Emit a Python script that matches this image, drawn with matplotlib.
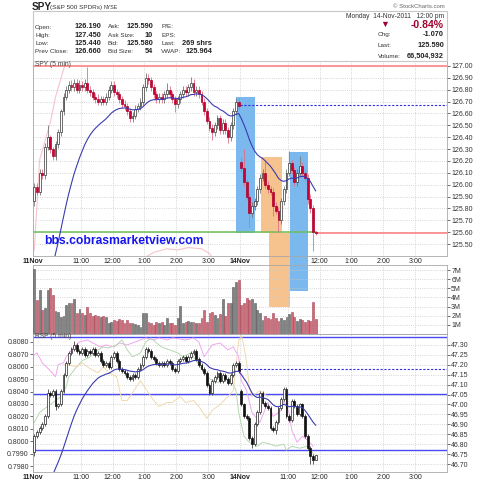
import numpy as np
import matplotlib.pyplot as plt
from matplotlib.patches import Rectangle
from matplotlib.ticker import FormatStrFormatter

plt.rcParams['font.family'] = ['Liberation Sans', 'DejaVu Sans']

BARS_PER_DAY = 78

# ---------------- data (5 min bars) ----------------
spy_day_open = [125.86, 126.19]
spy_close_11 = [
    125.98, 125.94, 126.10, 126.08, 126.32, 126.40, 126.30, 126.24, 126.34, 126.44,
    126.62, 126.74, 126.80, 126.84, 126.82, 126.86, 126.80, 126.84, 126.82, 126.86,
    126.80, 126.78, 126.74, 126.72, 126.70, 126.72, 126.70, 126.74, 126.80, 126.84,
    126.78, 126.76, 126.72, 126.68, 126.66, 126.62, 126.56, 126.58, 126.64, 126.66,
    126.70, 126.82, 126.90, 126.88, 126.82, 126.76, 126.72, 126.74, 126.72, 126.76,
    126.80, 126.76, 126.72, 126.68, 126.72, 126.76, 126.80, 126.78, 126.82, 126.86,
    126.78, 126.80, 126.76, 126.70, 126.62, 126.54, 126.48, 126.44, 126.50, 126.56,
    126.46, 126.52, 126.46, 126.40, 126.50, 126.62, 126.70, 126.66]
spy_close_14 = [
    126.14, 126.02, 125.90, 125.76, 125.82, 125.86, 125.96, 126.06, 126.10, 126.00,
    125.96, 125.94, 125.82, 125.78, 125.70, 125.86, 125.96, 126.10, 126.18, 126.12,
    126.02, 126.10, 126.16, 126.10, 126.06, 125.88, 125.80, 125.60, 125.59]
# wick lengths above / below the body, in cents
spy_up_wick = [
    3, 3, 3, 3, 3, 10, 2, 2, 3, 3, 2, 3, 3, 3, 4, 3, 3, 4, 3, 3,
    13, 3, 3, 3, 4, 3, 3, 3, 3, 3, 3, 3, 3, 3, 3, 3, 3, 3, 3, 3,
    3, 3, 4, 3, 3, 3, 3, 3, 3, 3, 6, 3, 3, 3, 3, 3, 3, 3, 3, 5,
    3, 3, 3, 3, 3, 3, 3, 3, 3, 3, 3, 3, 3, 3, 3, 3, 3, 3,
    4, 16, 3, 3, 3, 3, 3, 3, 3, 10, 3, 3, 3, 3, 3, 3, 3, 3, 10, 3,
    3, 3, 8, 3, 3, 3, 4, 3, 1]
spy_dn_wick = [
    4, 3, 3, 3, 3, 3, 3, 3, 3, 3, 3, 3, 3, 3, 3, 3, 3, 3, 3, 3,
    3, 3, 3, 3, 3, 3, 3, 3, 3, 3, 3, 3, 3, 3, 3, 3, 3, 3, 3, 3,
    3, 3, 3, 3, 3, 3, 3, 3, 3, 3, 3, 3, 3, 7, 3, 3, 3, 3, 3, 3,
    3, 3, 3, 3, 3, 3, 3, 6, 3, 3, 3, 3, 3, 5, 3, 3, 3, 3,
    3, 3, 3, 12, 3, 3, 3, 3, 3, 3, 3, 3, 8, 3, 10, 3, 3, 3, 3, 3,
    3, 3, 3, 3, 3, 4, 4, 16, 1]

volume_11 = [
    7.1, 3.7, 4.8, 2.6, 2.8, 4.8, 5.0, 4.3, 2.5, 2.4,
    1.9, 2.0, 3.2, 3.4, 3.4, 3.8, 2.3, 2.7, 2.3, 2.1,
    2.9, 2.3, 2.0, 2.1, 2.0, 1.9, 2.0, 1.9, 1.2, 1.3,
    1.5, 1.4, 1.6, 1.5, 1.2, 1.5, 1.2, 1.2, 1.1, 1.0,
    0.8, 2.3, 2.3, 1.3, 1.2, 1.0, 1.3, 1.2, 1.3, 1.0,
    1.8, 1.2, 1.2, 1.0, 1.7, 3.1, 1.2, 1.3, 1.4, 1.3,
    1.3, 1.2, 1.2, 1.7, 2.6, 1.3, 2.3, 2.4, 2.1, 1.8,
    2.2, 3.8, 2.0, 3.4, 3.4, 5.1, 5.7, 5.9]
volume_14 = [
    3.2, 3.4, 3.9, 3.7, 3.8, 3.4, 2.6, 2.3, 1.5, 2.0,
    1.8, 1.6, 2.3, 1.7, 1.4, 1.8, 1.5, 1.9, 2.2, 2.4,
    1.9, 1.4, 1.6, 1.5, 1.3, 1.5, 1.4, 3.5, 1.6]

rsp_day_open = [46.76, 47.07]
rsp_close_11 = [
    46.84, 46.86, 46.88, 46.90, 46.94, 47.06, 47.05, 47.07, 46.99, 47.00,
    47.07, 47.15, 47.21, 47.26, 47.28, 47.30, 47.27, 47.26, 47.28, 47.25,
    47.27, 47.26, 47.28, 47.25, 47.26, 47.22, 47.20, 47.21, 47.19, 47.24,
    47.26, 47.22, 47.18, 47.17, 47.16, 47.14, 47.13, 47.15, 47.14, 47.18,
    47.20, 47.24, 47.28, 47.27, 47.24, 47.23, 47.21, 47.20, 47.21, 47.20,
    47.22, 47.21, 47.18, 47.17, 47.22, 47.23, 47.24, 47.22, 47.24, 47.26,
    47.27, 47.23, 47.20, 47.18, 47.16, 47.10, 47.06, 47.12, 47.14, 47.16,
    47.12, 47.15, 47.13, 47.11, 47.15, 47.20, 47.21, 47.17]
rsp_close_14 = [
    47.00, 46.94, 46.93, 46.83, 46.80, 46.90, 46.96, 47.06, 47.01, 46.99,
    46.98, 46.88, 46.87, 46.91, 46.98, 47.03, 47.08, 46.94, 46.92, 47.02,
    46.99, 46.95, 47.00, 46.94, 46.84, 46.78, 46.74, 46.72, 46.745]
rsp_up_wick = [
    1, 1, 1, 1, 1, 2, 1, 1, 1, 1, 1, 1, 1, 1, 1, 2, 1, 1, 1, 1,
    1, 1, 1, 1, 1, 1, 1, 1, 1, 1, 1, 1, 1, 1, 1, 1, 1, 1, 1, 1,
    1, 1, 1, 1, 1, 1, 1, 1, 1, 1, 1, 1, 1, 1, 1, 1, 1, 1, 1, 1,
    1, 1, 1, 1, 1, 1, 1, 1, 1, 1, 1, 1, 1, 1, 1, 1, 1, 1,
    1, 1, 1, 1, 1, 1, 1, 1, 1, 1, 1, 1, 1, 1, 1, 1, 1, 1, 1, 1,
    1, 1, 1, 1, 1, 1, 1, 1, 0]
rsp_dn_wick = [
    2, 1, 1, 1, 1, 1, 1, 1, 2, 1, 1, 1, 1, 1, 1, 1, 1, 1, 1, 1,
    1, 1, 1, 1, 1, 1, 1, 1, 1, 1, 1, 1, 1, 1, 1, 1, 1, 1, 1, 1,
    1, 1, 1, 1, 1, 1, 1, 1, 1, 1, 1, 1, 1, 1, 1, 1, 1, 1, 1, 1,
    1, 1, 1, 1, 1, 1, 1, 1, 1, 1, 1, 1, 1, 1, 1, 1, 1, 1,
    1, 1, 1, 1, 2, 1, 1, 1, 1, 1, 1, 1, 1, 2, 1, 1, 1, 1, 1, 1,
    1, 1, 1, 1, 1, 1, 4, 2, 0]

# faint comparison lines in the RSP panel (bar index, value)
pink_bar = [0, 1, 3, 6, 8, 9, 11, 12, 15, 17, 20, 22, 25, 27, 30, 32, 35, 37, 40, 42,
            45, 47, 50, 52, 55, 57, 60, 62, 64, 65, 67, 70, 73, 75, 77, 78, 80, 82, 85,
            88, 90, 93, 94, 96, 97, 99, 101, 103, 105]
pink_val = [47.25, 47.26, 47.21, 47.17, 47.14, 47.20, 47.21, 47.24, 47.29, 47.315,
            47.325, 47.31, 47.29, 47.30, 47.29, 47.31, 47.30, 47.31, 47.325, 47.335,
            47.325, 47.335, 47.325, 47.335, 47.33, 47.325, 47.335, 47.315, 47.24, 47.26,
            47.30, 47.31, 47.275, 47.29, 47.24, 47.12, 47.07, 46.96, 46.91, 47.01,
            46.94, 46.97, 47.02, 46.96, 46.87, 46.81, 46.84, 46.82, 46.79]
green_bar = [0, 2, 5, 7, 10, 12, 13, 16, 18, 21, 24, 26, 28, 31, 33, 35, 37, 40, 42, 44,
             46, 48, 51, 54, 56, 59, 61, 64, 66, 69, 71, 74, 76, 77, 79, 81, 84, 86, 89,
             91, 94, 95, 97, 100, 103, 105]
green_val = [46.91, 46.96, 46.99, 47.01, 47.04, 47.09, 47.14, 47.19, 47.22, 47.24,
             47.275, 47.29, 47.285, 47.30, 47.325, 47.275, 47.24, 47.26, 47.315, 47.335,
             47.31, 47.29, 47.275, 47.26, 47.24, 47.26, 47.22, 47.16, 47.13, 47.11,
             47.12, 47.13, 47.07, 46.96, 46.84, 46.81, 46.79, 46.81, 46.80, 46.79,
             46.80, 46.77, 46.79, 46.78, 46.79, 46.755]
tan_bar = [11, 13, 16, 18, 21, 24, 26, 28, 31, 33, 35, 37, 40, 42, 45, 47, 50, 52, 55,
           57, 60, 62, 65, 67, 70, 73, 75, 77, 78, 79, 80, 81, 82, 85, 88]
tan_val = [47.20, 47.20, 47.19, 47.21, 47.18, 47.16, 47.19, 47.16, 47.14, 47.02,
           47.02, 47.06, 47.12, 47.08, 47.02, 46.99, 47.01, 47.01, 47.04, 47.01,
           47.02, 46.99, 46.93, 46.97, 47.00, 47.04, 47.07, 47.32, 47.35, 47.29,
           47.21, 47.09, 47.04, 47.07, 47.04]
# faint pink line inside the price panel (NaN = off chart)
spy_pink_bar = [0, 2, 6, 8, 11, 13, 14, 40, 42, 45, 50, 54, 58, 63, 66, 67, 69]
spy_pink_val = [125.45, 126.21, 126.52, 126.74, 126.97, 127.10, np.nan, 125.30,
                125.39, 125.43, 125.46, 125.45, 125.47, 125.46, 125.42, 125.39, 125.30]

spy_ema_seed = 124.25
rsp_ema_seed = 46.25

# user drawn levels / boxes
spy_top_line = 127.00
spy_support = 125.60
spy_last = 125.59
spy_prev_close = 126.67
rsp_levels = [47.339, 47.053, 46.773]
rsp_prev_close = 47.177
# (first bar, last bar, top price, bottom price, colour)
boxes = [(76.0, 83.1, 126.74, 125.59, '#7ab8ee'),
         (85.4, 93.3, 126.23, 125.59, '#f6c38f'),
         (88.4, 96.3, 125.59, 124.97, '#f6c38f'),
         (96.3, 103.1, 126.275, 125.10, '#7ab8ee')]

time_labels = ['11Nov', '11:00', '12:00', '1:00', '2:00', '3:00',
               '14Nov', '11:00', '12:00', '1:00', '2:00', '3:00']
time_day = [0, 0, 0, 0, 0, 0, 1, 1, 1, 1, 1, 1]
time_hour = [9.5, 11, 12, 13, 14, 15, 9.5, 11, 12, 13, 14, 15]


# ---------------- helpers ----------------
def bar_of(day, hour):
    return day * BARS_PER_DAY + (hour - 9.5) * 12 - 0.5


def with_opens(day_open, *days):
    o, c = [], []
    for first, closes in zip(day_open, days):
        o += [first] + list(closes[:-1])
        c += list(closes)
    return np.array(o), np.array(c)


def ema(vals, seed, n=20):
    a = 2 / (n + 1)
    e, out = seed, []
    for v in vals:
        e = e + a * (v - e)
        out.append(e)
    return np.array(out)


def candles(ax, x, o, c, upw, dnw, up_face, up_edge, dn_face, dn_edge,
            up_wick, dn_wick, min_h):
    top = np.maximum(o, c)
    bot = np.minimum(o, c)
    hi = top + np.array(upw) / 100
    lo = bot - np.array(dnw) / 100
    up = c >= o
    h = np.maximum(top - bot, min_h)
    ax.vlines(x[up], lo[up], hi[up], color=up_wick, lw=0.6, zorder=3)
    ax.vlines(x[~up], lo[~up], hi[~up], color=dn_wick, lw=0.6, zorder=3)
    ax.bar(x[up], h[up], bottom=bot[up], width=0.7, color=up_face,
           edgecolor=up_edge, lw=0.5, zorder=4)
    ax.bar(x[~up], h[~up], bottom=bot[~up], width=0.7, color=dn_face,
           edgecolor=dn_edge, lw=0.5, zorder=4)


fig = plt.figure(figsize=(4.8, 4.8), dpi=100)


def px(x, y):
    return x / 480, 1 - y / 480


def panel(x0, y0, x1, y1):
    return fig.add_axes([x0 / 480, 1 - y1 / 480, (x1 - x0) / 480, (y1 - y0) / 480])


ticks = [bar_of(d, h) for d, h in zip(time_day, time_hour)]
grid_kw = dict(color='#c8c8c8', ls=':', lw=0.6)


def style(ax, labels):
    ax.set_xlim(-0.5, 2 * BARS_PER_DAY - 0.5)
    ax.set_xticks(ticks)
    ax.set_xticklabels(time_labels if labels else [])
    ax.tick_params(axis='x', length=0, pad=1.5, labelsize=5, colors='#222')
    for t in ax.get_xticklabels():
        if 'Nov' in t.get_text():
            t.set_fontweight('bold')
    ax.yaxis.tick_right()
    ax.tick_params(axis='y', length=2, width=0.5, pad=1, labelsize=5,
                   colors='#333', left=False)
    ax.grid(True, **grid_kw)
    ax.set_axisbelow(True)
    for s in ax.spines.values():
        s.set_color('#a8a8a8')
        s.set_linewidth(0.6)


# ---------------- price panel ----------------
x = np.arange(len(spy_close_11) + len(spy_close_14))
so, sc = with_opens(spy_day_open, spy_close_11, spy_close_14)
ax = panel(33, 61, 447, 256)
style(ax, True)
ax.set_ylim(125.399, 127.042)
ax.set_yticks(np.round(np.arange(125.5, 127.001, 0.1), 2))
ax.yaxis.set_major_formatter(FormatStrFormatter('%.2f'))

for b0, b1, top, bot, col in boxes:
    ax.add_patch(Rectangle((b0, bot), b1 - b0, top - bot, color=col, lw=0,
                           clip_on=False, zorder=1))

ax.plot(spy_pink_bar, spy_pink_val, color='#f6c4cc', lw=0.8, zorder=2)
ax.axhline(spy_top_line, color='#ff7a7a', lw=1.1, zorder=2)
ax.plot([-0.5, x[-1]], [spy_support, spy_support], color='#6cbf5a', lw=1.1, zorder=2)
ax.plot([x[-1], 2 * BARS_PER_DAY - 0.5], [spy_last, spy_last], color='#ff7a7a',
        lw=1.1, zorder=2)
ax.plot([BARS_PER_DAY - 0.5, 2 * BARS_PER_DAY - 0.5], [spy_prev_close] * 2,
        color='#3030e0', lw=0.8, ls=(0, (2, 1.5)), zorder=2)
candles(ax, x, so, sc, spy_up_wick, spy_dn_wick, 'white', '#333333', '#cc0033',
        '#b0002a', '#777777', '#e07088', 0.004)
ax.plot(x, ema(sc, spy_ema_seed), color='#3b3bb0', lw=0.8, zorder=5)
fig.text(*px(35, 64), 'SPY (5 min)', fontsize=4.8, color='#444', va='center')
fig.text(*px(44, 241), 'bbs.cobrasmarketview.com', fontsize=8.7, color='#1414f0',
         fontweight='bold', va='center')

# ---------------- volume panel ----------------
vol = np.array(volume_11 + volume_14)
av = panel(33, 265, 447, 334)
style(av, False)
av.set_facecolor('none')
av.set_ylim(0, 7.55)
av.set_yticks(range(1, 8))
av.set_yticklabels([f'{v}M' for v in range(1, 8)])
down = sc < so
av.bar(x[~down], vol[~down], width=0.7, color='#808080', edgecolor='#5a5a5a',
       lw=0.4, zorder=3)
av.bar(x[down], vol[down], width=0.7, color='#d06a78', edgecolor='#a84858',
       lw=0.4, zorder=3)

# ---------------- RSP panel ----------------
ro, rc = with_opens(rsp_day_open, rsp_close_11, rsp_close_14)
ar = panel(33, 334, 447, 472)
style(ar, True)
ar.set_facecolor('none')
ar.set_ylim(46.660, 47.355)
ar.set_yticks(np.round(np.arange(46.70, 47.301, 0.05), 2))
ar.yaxis.set_major_formatter(FormatStrFormatter('%.2f'))
for lvl in rsp_levels:
    ar.axhline(lvl, color='#4a4af5', lw=1.0, zorder=2)
ar.plot([BARS_PER_DAY - 0.5, 2 * BARS_PER_DAY - 0.5], [rsp_prev_close] * 2,
        color='#3030e0', lw=0.8, ls=(0, (2, 1.5)), zorder=2)
ar.plot(pink_bar, pink_val, color='#f2a6f0', lw=0.7, zorder=2)
ar.plot(green_bar, green_val, color='#b6d8b0', lw=0.7, zorder=2)
ar.plot(tan_bar, tan_val, color='#f0d9ae', lw=0.7, zorder=2)
candles(ar, x, ro, rc, rsp_up_wick, rsp_dn_wick, 'white', '#222222', '#111111',
        '#111111', '#444444', '#444444', 0.003)
ar.plot(x, ema(rc, rsp_ema_seed), color='#3b3bb0', lw=0.8, zorder=5)
fig.text(*px(35, 337), 'RSP (5 min)', fontsize=4.8, color='#444', va='center')

sec = ar.secondary_yaxis('left', functions=(lambda v: 0.807758 + (v - 47.30) * 0.015995,
                                            lambda l: 47.30 + (l - 0.807758) / 0.015995))
sec.set_yticks(np.round(np.arange(0.7980, 0.80801, 0.001), 4))
sec.yaxis.set_major_formatter(FormatStrFormatter('%.4f'))
sec.tick_params(length=2, width=0.5, pad=1, labelsize=5, colors='#333')
sec.spines['left'].set_color('#a8a8a8')
sec.spines['left'].set_linewidth(0.6)

# ---------------- header ----------------
fig.add_artist(Rectangle(px(33, 61), 414 / 480, 50 / 480, transform=fig.transFigure,
                         fill=False, ec='#c8c8c8', lw=0.8))
fig.text(*px(32, 7), 'SPY', fontsize=7.2, fontweight='bold', va='center', color='#222')
fig.text(*px(50, 7.5), '(S&P 500 SPDRs)', fontsize=4.6, va='center', color='#333')
fig.text(*px(104, 7.8), 'NYSE', fontsize=3.8, va='center', color='#333')
fig.text(*px(445, 6.5), '© StockCharts.com', fontsize=4.3, va='center', ha='right',
         color='#666')

rows_y = [27, 35.3, 43.5, 51.8]
left_cols = [
    (35, ['Open:', 'High:', 'Low:', 'Prev Close:'], 101.5,
     ['126.190', '127.450', '125.440', '126.660']),
    (108, ['Ask:', 'Ask Size:', 'Bid:', 'Bid Size:'], 153,
     ['125.590', '10', '125.580', '54']),
    (161, ['P/E:', 'EPS:', 'Last:', 'VWAP:'], 212,
     ['', '', '269 shrs', '125.964']),
]
for lx, labels, vx, values in left_cols:
    for y, lab, val in zip(rows_y, labels, values):
        fig.text(*px(lx, y), lab, fontsize=4.6, va='center', color='#333')
        fig.text(*px(vx, y), val, fontsize=5.3, va='center', ha='right',
                 fontweight='bold', color='#222')

fig.text(*px(444, 16), 'Monday  14-Nov-2011   12:00 pm', fontsize=4.8, va='center',
         ha='right', color='#333')
fig.text(*px(380, 24.5), '▼', fontsize=6.5, va='center', color='#a00030')
fig.text(*px(444, 24.5), '-0.84%', fontsize=7.5, va='center', ha='right',
         fontweight='bold', color='#a00030')
for y, lab, val in zip([34.3, 45.5, 56.7], ['Chg:', 'Last:', 'Volume:'],
                       ['-1.070', '125.590', '66,504,932']):
    fig.text(*px(378, y), lab, fontsize=4.6, va='center', color='#333')
    fig.text(*px(444, y), val, fontsize=5.3, va='center', ha='right',
             fontweight='bold', color='#222')

fig.savefig('out.png', dpi=100)
